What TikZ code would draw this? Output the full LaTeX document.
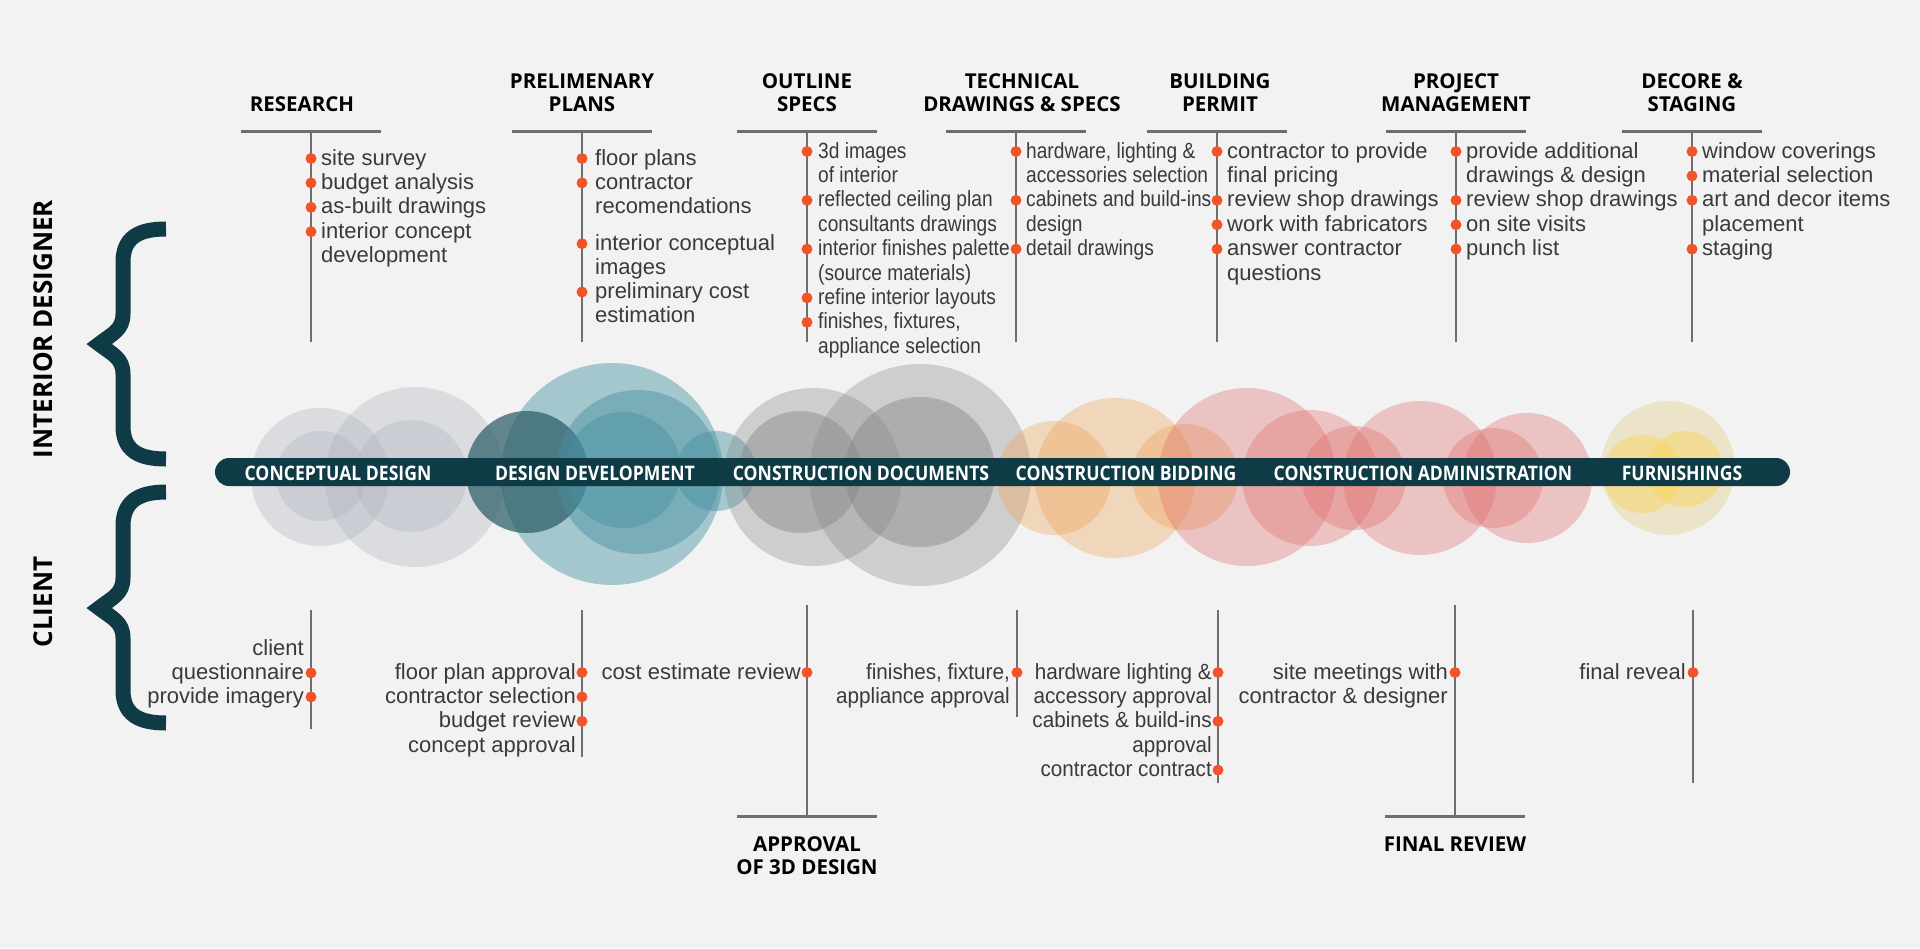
\documentclass[tikz,border=0pt]{standalone}
\usepackage{fontspec}
\setmainfont{Liberation Sans}
\newfontfamily\headfont{Open Sans}
\newfontfamily\barfont{Open Sans}[FakeStretch=0.88]
\newfontfamily\narrowfont{Liberation Sans}[FakeStretch=0.87]
\newfontfamily\semifont{Liberation Sans}[FakeStretch=0.94]
\usetikzlibrary{positioning}

\definecolor{bgc}{RGB}{242,242,242}
\definecolor{barc}{RGB}{14,59,69}
\definecolor{dotc}{RGB}{240,84,40}
\definecolor{linec}{RGB}{110,110,110}
\definecolor{txtc}{RGB}{58,58,58}
\definecolor{concc}{RGB}{169,172,185}
\definecolor{devc}{RGB}{70,145,160}
\definecolor{devdark}{RGB}{39,89,99}
\definecolor{docc}{RGB}{135,135,135}
\definecolor{bidc}{RGB}{239,162,82}
\definecolor{admc}{RGB}{222,108,105}
\definecolor{furnc}{RGB}{227,207,137}
\definecolor{furnyel}{RGB}{248,212,90}

\begin{document}
\begin{tikzpicture}[x=1pt, y=-1pt,
		head/.style={font=\headfont\bfseries\fontsize{20.5}{23}\selectfont, align=center, inner sep=0pt, text=black},
		side/.style={font=\headfont\bfseries\fontsize{26}{26}\selectfont, rotate=90, inner sep=0pt, text=black},
		phase/.style={font=\barfont\bfseries\fontsize{20}{20}\selectfont, text=white, anchor=base, inner sep=0pt},
		item/.style={font=\fontsize{22}{24.4}\selectfont, align=left, anchor=base west, inner sep=0pt, text=txtc},
		nitem/.style={item, font=\narrowfont\fontsize{22}{24.4}\selectfont},
		citem/.style={font=\fontsize{22}{24.4}\selectfont, align=right, anchor=base east, inner sep=0pt, text=txtc},
		ncitem/.style={citem, font=\semifont\fontsize{22}{24.4}\selectfont},
		dot/.style={circle, fill=dotc, inner sep=0pt, minimum size=11pt},
		stem/.style={draw=linec, line width=2.5pt},
		rule/.style={draw=linec, line width=3pt},
		bub/.style={fill=#1, fill opacity=0.35},
		brace/.style={draw=barc, line width=15pt, line join=miter, line cap=butt},
		bar/.style={fill=barc, rounded corners=14pt, minimum width=1575pt, minimum height=28pt, inner sep=0pt}
		]
		
		% Background
		\fill[bgc] (0,0) rectangle (1920,948);
		\useasboundingbox (0,0) rectangle (1920,948);
		
		% Side labels and braces
		\node[side] (sdes) at (43,329) {INTERIOR DESIGNER};
		\node[side] (scli) at (43,602) {CLIENT};
		\draw[brace] (166,229) .. controls (138,229) and (123,238) .. (123,262) -- (123,314)
			.. controls (123,330) and (112,334) .. (99,344) .. controls (112,354) and (123,358) .. (123,374)
			-- (123,426) .. controls (123,450) and (138,459) .. (166,459);
		\draw[brace] (166,492) .. controls (138,492) and (123,502) .. (123,526) -- (123,578)
			.. controls (123,594) and (112,598) .. (99,608) .. controls (112,618) and (123,622) .. (123,638)
			-- (123,690) .. controls (123,714) and (138,723) .. (166,723);
		
		% Bubbles: conceptual design
		\fill[bub=concc, fill opacity=0.3] (320,477) circle (69pt);
		\fill[bub=concc, fill opacity=0.3] (321,476) circle (45pt);
		\fill[bub=concc, fill opacity=0.3] (415,477) circle (90pt);
		\fill[bub=concc, fill opacity=0.3] (411,476) circle (56pt);
		
		% Bubbles: design development
		\fill[bub=devc, fill opacity=0.45] (612,474) circle (111pt);
		\fill[bub=devdark, fill opacity=0.7] (527,472) circle (61pt);
		\fill[bub=devc, fill opacity=0.45] (638,472) circle (82pt);
		\fill[bub=devc, fill opacity=0.45] (623,470) circle (58pt);
		\fill[bub=devc, fill opacity=0.45] (716,471) circle (40pt);
		
		% Bubbles: construction documents
		\fill[bub=docc, fill opacity=0.33] (813,477) circle (89pt);
		\fill[bub=docc, fill opacity=0.45] (800,472) circle (61pt);
		\fill[bub=docc, fill opacity=0.33] (920,475) circle (111pt);
		\fill[bub=docc, fill opacity=0.45] (920,472) circle (75pt);
		
		% Bubbles: construction bidding
		\fill[bub=bidc] (1054,478) circle (57pt);
		\fill[bub=bidc] (1115,478) circle (80pt);
		\fill[bub=bidc] (1185,477) circle (53pt);
		
		% Bubbles: construction administration
		\fill[bub=admc] (1247,477) circle (89pt);
		\fill[bub=admc] (1310,478) circle (68pt);
		\fill[bub=admc] (1354,478) circle (52pt);
		\fill[bub=admc] (1420,478) circle (77pt);
		\fill[bub=admc] (1493,478) circle (50pt);
		\fill[bub=admc] (1527,478) circle (65pt);
		
		% Bubbles: furnishings
		\fill[bub=furnc, fill opacity=0.4] (1668,468) circle (67pt);
		\fill[bub=furnyel, fill opacity=0.45] (1642,474) circle (39pt);
		\fill[bub=furnyel, fill opacity=0.45] (1685,469) circle (38pt);
		
		% Timeline bar
		\node[bar] (bar) at (1002.5,472) {};
		\node[phase] (ph1) at (338,480) {CONCEPTUAL DESIGN};
		\node[phase] (ph2) at (595,480) {DESIGN DEVELOPMENT};
		\node[phase] (ph3) at (861,480) {CONSTRUCTION DOCUMENTS};
		\node[phase] (ph4) at (1126,480) {CONSTRUCTION BIDDING};
		\node[phase] (ph5) at (1423,480) {CONSTRUCTION ADMINISTRATION};
		\node[phase] (ph6) at (1682,480) {FURNISHINGS};
		
		% Headers
		\node[head, anchor=south] (hres) at (302,112) {RESEARCH};
		\node[head, anchor=south] (hpre) at (582,112) {PRELIMENARY\\PLANS};
		\node[head, anchor=south] (hout) at (807,112) {OUTLINE\\SPECS};
		\node[head, anchor=south] (htec) at (1022,112) {TECHNICAL\\DRAWINGS \& SPECS};
		\node[head, anchor=south] (hbui) at (1220,112) {BUILDING\\PERMIT};
		\node[head, anchor=south] (hpro) at (1456,112) {PROJECT\\MANAGEMENT};
		\node[head, anchor=south] (hdec) at (1692,112) {DECORE \&\\STAGING};
		
		% Header rules and stems
		\draw[rule] (241,131) -- (381,131);
		\draw[rule] (512,131) -- (652,131);
		\draw[rule] (737,131) -- (877,131);
		\draw[rule] (946,131) -- (1086,131);
		\draw[rule] (1147,131) -- (1287,131);
		\draw[rule] (1386,131) -- (1526,131);
		\draw[rule] (1622,131) -- (1762,131);
		\draw[stem] (311,131) -- (311,342);
		\draw[stem] (582,131) -- (582,342);
		\draw[stem] (807,131) -- (807,342);
		\draw[stem] (1016,131) -- (1016,342);
		\draw[stem] (1217,131) -- (1217,342);
		\draw[stem] (1456,131) -- (1456,342);
		\draw[stem] (1692,131) -- (1692,342);
		
		% Research
		\node[item] (res1) at (321,165) {site survey};
		\node[item] (res2) at (321,189.4) {budget analysis};
		\node[item] (res3) at (321,213.8) {as-built drawings};
		\node[item] (res4) at (321,262.6) {interior concept\\development};
		\node[dot] (res1d) at (311,158.5) {};
		\node[dot] (res2d) at (311,182.9) {};
		\node[dot] (res3d) at (311,207.3) {};
		\node[dot] (res4d) at (311,231.7) {};
		
		% Preliminary plans
		\node[item] (pre1) at (595,165) {floor plans};
		\node[item] (pre2) at (595,213.8) {contractor\\recomendations};
		\node[item] (pre3) at (595,274.6) {interior conceptual\\images};
		\node[item] (pre4) at (595,322.9) {preliminary cost\\estimation};
		\node[dot] (pre1d) at (582,158.5) {};
		\node[dot] (pre2d) at (582,182.9) {};
		\node[dot] (pre3d) at (582,243.7) {};
		\node[dot] (pre4d) at (582,292) {};
		
		% Outline specs
		\node[nitem] (out1) at (818,182.4) {3d images\\of interior};
		\node[nitem] (out2) at (818,231.2) {reflected ceiling plan\\consultants drawings};
		\node[nitem] (out3) at (818,280) {interior finishes palette\\(source materials)};
		\node[nitem] (out4) at (818,304.4) {refine interior layouts};
		\node[nitem] (out5) at (818,353.2) {finishes, fixtures,\\appliance selection};
		\node[dot] (out1d) at (807,151.5) {};
		\node[dot] (out2d) at (807,200.3) {};
		\node[dot] (out3d) at (807,249.1) {};
		\node[dot] (out4d) at (807,297.9) {};
		\node[dot] (out5d) at (807,322.3) {};
		
		% Technical drawings
		\node[nitem] (tec1) at (1026,182.4) {hardware, lighting \&\\accessories selection};
		\node[nitem] (tec2) at (1026,231.2) {cabinets and build-ins\\design};
		\node[nitem] (tec3) at (1026,255.6) {detail drawings};
		\node[dot] (tec1d) at (1016,151.5) {};
		\node[dot] (tec2d) at (1016,200.3) {};
		\node[dot] (tec3d) at (1016,249.1) {};
		
		% Building permit
		\node[item] (bui1) at (1227,182.4) {contractor to provide\\final pricing};
		\node[item] (bui2) at (1227,206.8) {review shop drawings};
		\node[item] (bui3) at (1227,231.2) {work with fabricators};
		\node[item] (bui4) at (1227,280) {answer contractor\\questions};
		\node[dot] (bui1d) at (1217,151.5) {};
		\node[dot] (bui2d) at (1217,200.3) {};
		\node[dot] (bui3d) at (1217,224.7) {};
		\node[dot] (bui4d) at (1217,249.1) {};
		
		% Project management
		\node[item] (pro1) at (1466,182.4) {provide additional\\drawings \& design};
		\node[item] (pro2) at (1466,206.8) {review shop drawings};
		\node[item] (pro3) at (1466,231.2) {on site visits};
		\node[item] (pro4) at (1466,255.6) {punch list};
		\node[dot] (pro1d) at (1456,151.5) {};
		\node[dot] (pro2d) at (1456,200.3) {};
		\node[dot] (pro3d) at (1456,224.7) {};
		\node[dot] (pro4d) at (1456,249.1) {};
		
		% Decore and staging
		\node[item] (dec1) at (1702,158) {window coverings};
		\node[item] (dec2) at (1702,182.4) {material selection};
		\node[item] (dec3) at (1702,231.2) {art and decor items\\placement};
		\node[item] (dec4) at (1702,255.6) {staging};
		\node[dot] (dec1d) at (1692,151.5) {};
		\node[dot] (dec2d) at (1692,175.9) {};
		\node[dot] (dec3d) at (1692,200.3) {};
		\node[dot] (dec4d) at (1692,249.1) {};
		
		% Client stems and rules
		\draw[stem] (311,610) -- (311,729);
		\draw[stem] (582,610) -- (582,757);
		\draw[stem] (807,605) -- (807,816);
		\draw[stem] (1017,610) -- (1017,717);
		\draw[stem] (1218,610) -- (1218,783);
		\draw[stem] (1455,605) -- (1455,816);
		\draw[stem] (1693,610) -- (1693,783);
		\draw[rule] (737,816) -- (877,816);
		\draw[rule] (1385,816) -- (1525,816);
		
		% Client items
		\node[citem] (cli1) at (304,679.4) {client\\questionnaire};
		\node[citem] (cli2) at (304,703.4) {provide imagery};
		\node[dot] (cli1d) at (311,672.9) {};
		\node[dot] (cli2d) at (311,696.9) {};
		\node[citem] (cpl1) at (576,679) {floor plan approval};
		\node[citem] (cpl2) at (576,703.4) {contractor selection};
		\node[citem] (cpl3) at (576,727.8) {budget review};
		\node[citem] (cpl4) at (576,752.2) {concept approval};
		\node[dot] (cpl1d) at (582,672.5) {};
		\node[dot] (cpl2d) at (582,696.9) {};
		\node[dot] (cpl3d) at (582,721.3) {};
		\node[citem] (ccos) at (801,679) {cost estimate review};
		\node[dot] (ccosd) at (807,672.5) {};
		\node[ncitem] (cfin) at (1010,703.4) {finishes, fixture,\\appliance approval};
		\node[dot] (cfind) at (1017,672.5) {};
		\node[ncitem] (chw1) at (1212,703.4) {hardware lighting \&\\accessory approval};
		\node[ncitem] (chw2) at (1212,752.2) {cabinets \& build-ins\\approval};
		\node[ncitem] (chw3) at (1212,776.6) {contractor contract};
		\node[dot] (chw1d) at (1218,672.5) {};
		\node[dot] (chw2d) at (1218,721.3) {};
		\node[dot] (chw3d) at (1218,770.1) {};
		\node[citem] (csit) at (1448,703.4) {site meetings with\\contractor \& designer};
		\node[dot] (csitd) at (1455,672.5) {};
		\node[citem] (crev) at (1686,679) {final reveal};
		\node[dot] (crevd) at (1693,672.5) {};
		
		% Footers
		\node[head, anchor=north] (fapp) at (807,836) {APPROVAL\\OF 3D DESIGN};
		\node[head, anchor=north] (ffin) at (1455,837) {FINAL REVIEW};
		
	\end{tikzpicture}
\end{document}
